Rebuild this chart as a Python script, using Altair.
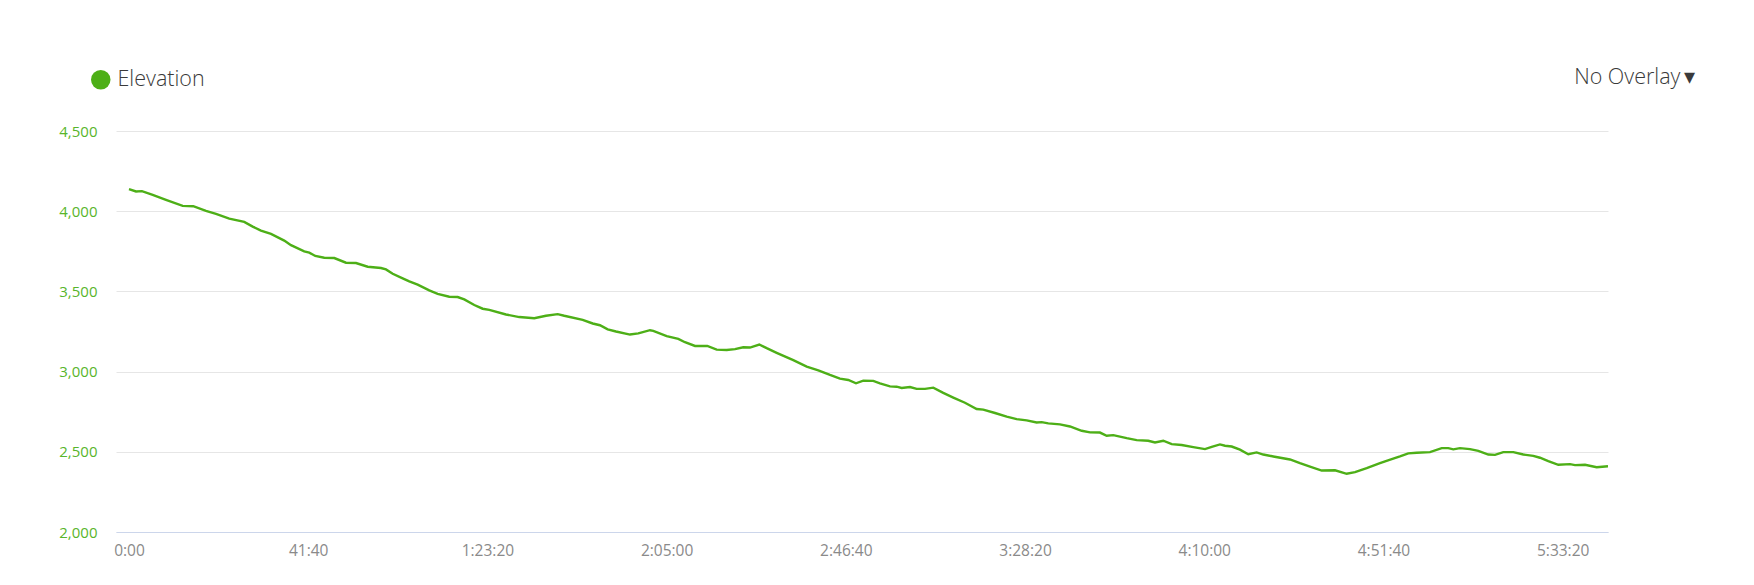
import altair as alt
import pandas as pd

# elapsed time in seconds, elevation in metres
time_s = [0, 98, 181, 331, 516, 749, 897, 1074, 1214, 1399, 1608, 1726, 1841, 1981,
          2166, 2260, 2445, 2515, 2599, 2724, 2864, 3027, 3167, 3330, 3515, 3585, 3679,
          3818, 3910, 4027, 4189, 4306, 4468, 4585, 4677, 4817, 4934, 5026, 5259, 5445,
          5654, 5817, 5980, 6072, 6329, 6469, 6570, 6678, 6794, 6989, 7105, 7268, 7314,
          7501, 7663, 7756, 7896, 8067, 8198, 8338, 8454, 8569, 8663, 8793, 8896, 9035,
          9267, 9454, 9616, 9779, 9918, 10034, 10142, 10243, 10383, 10476, 10616, 10709,
          10779, 10895, 10988, 11104, 11220, 11359, 11499, 11662, 11825, 11917, 12081,
          12244, 12383, 12523, 12662, 12732, 12824, 12987, 13127, 13290, 13406, 13545,
          13639, 13731, 13918, 14057, 14219, 14313, 14428, 14546, 14685, 14847, 15010,
          15104, 15219, 15289, 15383, 15498, 15614, 15731, 15823, 15963, 16196, 16335,
          16475, 16638, 16824, 16987, 17103, 17266, 17451, 17615, 17730, 17846, 17963,
          18149, 18312, 18404, 18474, 18567, 18707, 18823, 18962, 19056, 19171, 19311,
          19450, 19590, 19683, 19799, 19939, 20102, 20172, 20311, 20474, 20632]
elevation_m = [4138, 4123, 4125, 4102, 4071, 4033, 4031, 4002, 3983, 3954, 3933, 3904,
               3879, 3858, 3817, 3788, 3750, 3742, 3721, 3710, 3708, 3679, 3677, 3654,
               3646, 3637, 3610, 3581, 3562, 3542, 3506, 3485, 3467, 3465, 3450, 3415,
               3392, 3385, 3356, 3340, 3333, 3348, 3358, 3348, 3323, 3300, 3289, 3263,
               3250, 3231, 3238, 3258, 3254, 3221, 3204, 3183, 3160, 3160, 3137, 3135,
               3140, 3152, 3150, 3169, 3146, 3117, 3071, 3031, 3008, 2979, 2956, 2948,
               2927, 2944, 2942, 2927, 2908, 2906, 2898, 2904, 2892, 2892, 2900, 2867,
               2838, 2806, 2767, 2763, 2742, 2719, 2704, 2696, 2683, 2685, 2677, 2671,
               2658, 2631, 2621, 2620, 2600, 2604, 2585, 2573, 2569, 2558, 2569, 2548,
               2542, 2529, 2517, 2531, 2546, 2538, 2533, 2513, 2485, 2496, 2483, 2471,
               2452, 2429, 2408, 2383, 2385, 2363, 2373, 2398, 2429, 2454, 2471, 2490,
               2494, 2498, 2523, 2523, 2515, 2523, 2517, 2506, 2483, 2481, 2498, 2498,
               2483, 2475, 2463, 2442, 2419, 2423, 2417, 2419, 2404, 2410]

x_ticks = [0, 2500, 5000, 7500, 10000, 12500, 15000, 17500, 20000]
y_ticks = [2000, 2500, 3000, 3500, 4000, 4500]
series_name = "Elevation"
overlay_label = ["No Overlay\u2009\u25be"]

df = pd.DataFrame({"t": time_s, "elev": elevation_m, "series": series_name})

FONT = "Open Sans"
GREEN = "#4daf17"

label_expr = (
    "(datum.value >= 3600 ? floor(datum.value / 3600) + ':' + "
    "(floor((datum.value % 3600) / 60) < 10 ? '0' : '') + floor((datum.value % 3600) / 60) "
    ": floor(datum.value / 60)) + ':' + (datum.value % 60 < 10 ? '0' : '') + (datum.value % 60)"
)

line = alt.Chart(df).mark_line(strokeWidth=2.4, clip=True).encode(
    x=alt.X("t:Q",
            scale=alt.Scale(domain=[-181, 20632], nice=False, zero=False),
            axis=alt.Axis(values=x_ticks, labelExpr=label_expr, title=None, grid=False,
                          ticks=False, tickSize=0, domain=True, domainColor="#ccd6eb",
                          domainWidth=1, labelColor="#8a8a8a", labelFont=FONT,
                          labelFontSize=15.5, labelPadding=11, zindex=1)),
    y=alt.Y("elev:Q",
            scale=alt.Scale(domain=[2000, 4500], nice=False, zero=False),
            axis=alt.Axis(values=y_ticks, format=",d", title=None, grid=True,
                          gridColor="#e6e6e6", gridWidth=1, ticks=False, tickSize=0,
                          domain=False, labelColor="#58b52b", labelFont=FONT,
                          labelFontSize=15, labelPadding=19)),
    color=alt.Color("series:N", scale=alt.Scale(range=[GREEN]),
                    legend=alt.Legend(title=None, orient="none", legendX=-26, legendY=-62,
                                      symbolType="circle", symbolSize=380,
                                      symbolStrokeWidth=0, symbolFillColor=GREEN,
                                      labelFont=FONT, labelFontSize=21.5,
                                      labelFontWeight=300, labelColor="#3a3a3a",
                                      labelOffset=6)),
)

overlay = alt.Chart(pd.DataFrame({"label": overlay_label})).mark_text(
    align="right", baseline="middle", font=FONT, fontSize=21.5, fontWeight=300,
    color="#3a3a3a"
).encode(
    text="label:N",
    x=alt.value(1579),
    y=alt.value(-53),
)

chart = alt.layer(line, overlay).properties(
    width=1492,
    height=401,
    padding={"left": 108, "top": 123, "right": 130, "bottom": 40},
    autosize="none",
    background="white",
).configure_view(stroke=None)

chart.save("out.html", embed_options={"renderer": "svg", "actions": False})
